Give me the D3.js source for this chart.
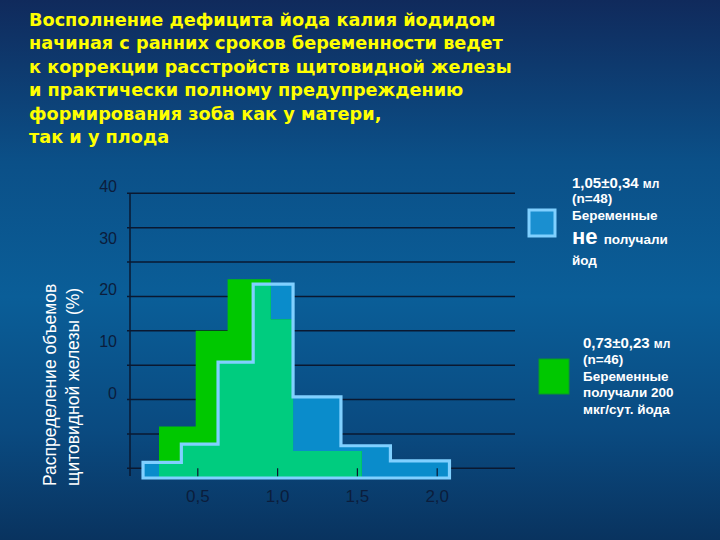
<!DOCTYPE html>
<html><head><meta charset="utf-8">
<script src="https://cdn.jsdelivr.net/npm/d3@7"></script>
<style>html,body{margin:0;padding:0;background:#0a4a80;}svg{display:block;}</style>
</head><body>
<svg id="c" width="720" height="540"></svg>
<script>
// ---- data ----
const titleLines = [
  "Восполнение дефицита йода калия йодидом",
  "начиная с ранних сроков беременности ведет",
  "к коррекции расстройств щитовидной железы",
  "и практически полному предупреждению",
  "формирования зоба как у матери,",
  "так и у плода"
];
const yTitleLines = ["Распределение объемов", "щитовидной железы (%)"];
const yTickLabels = [0, 10, 20, 30, 40];
const gridValues = [0, 5, 10, 15, 20, 25, 30, 35, 40];
const xTickValues = [0.5, 1.0, 1.5, 2.0];
const xTickLabels = ["0,5", "1,0", "1,5", "2,0"];
// no iodine (blue) histogram: bin edges (ml) and values (%)
const blueEdges = [0.16, 0.40, 0.63, 0.85, 1.10, 1.40, 1.71, 2.08];
const blueValues = [3.0, 6.5, 22.3, 37.3, 15.6, 6.2, 3.3];
// iodine 200 mcg (green) histogram
const greenEdges = [0.26, 0.49, 0.69, 0.96, 1.10, 1.53];
const greenValues = [9.9, 28.3, 38.2, 30.5, 5.2];
const legendBlue = ["(n=48)", "Беременные"];
const legendGreen = ["(n=46)", "Беременные", "получали 200", "мкг/сут. йода"];

// ---- drawing ----
const svg = d3.select("#c");
const defs = svg.append("defs");
const grad = defs.append("linearGradient").attr("id","bg").attr("x1",0).attr("y1",0).attr("x2",0).attr("y2",1);
[[0,"#102a5c"],[0.3,"#0b5088"],[0.55,"#0a5e98"],[0.8,"#0a4a80"],[1,"#09335f"]]
  .forEach(([o,c])=>grad.append("stop").attr("offset",o).attr("stop-color",c));
svg.append("rect").attr("width",720).attr("height",540).attr("fill","url(#bg)");

// title
const title = svg.append("text").attr("font-family","DejaVu Sans").attr("font-weight","bold")
  .attr("font-size",17.7).attr("fill","#ffff00");
titleLines.forEach((t,i)=>title.append("tspan").attr("x",29).attr("y",26+i*23.4).text(t));

// scales
const x = d3.scaleLinear().domain([0.5, 2.0]).range([197.3, 436.7]);
const yGrid = d3.scaleLinear().domain([0, 40]).range([468.3, 193.3]);
const yLab = d3.scaleLinear().domain([0, 40]).range([393, 186.7]);
const yH = d3.scaleLinear().domain([0, 40]).range([478, 270]);
const plotL = 130, plotR = 515;

// gridlines
svg.append("g").selectAll("line").data(gridValues).join("line")
  .attr("x1",plotL-3).attr("x2",plotR).attr("y1",d=>yGrid(d)).attr("y2",d=>yGrid(d))
  .attr("stroke","#0a1830").attr("stroke-width",1.5);
svg.append("line").attr("x1",plotL).attr("x2",plotL).attr("y1",yGrid(40)).attr("y2",476)
  .attr("stroke","#0a1830").attr("stroke-width",1.5);

// y tick labels
svg.append("g").selectAll("text").data(yTickLabels).join("text")
  .attr("x",117).attr("y",d=>yLab(d)).attr("dy","0.35em").attr("text-anchor","end")
  .attr("font-family","Liberation Sans, Arial").attr("font-size",16).attr("fill","#0b1d3c")
  .text(d=>d);

// y title
const yt = svg.append("g");
yTitleLines.forEach((t,i)=>{
  yt.append("text").attr("transform",`translate(${56+i*23},486) rotate(-90)`)
    .attr("font-family","Liberation Sans, Arial").attr("font-size",17.5).attr("fill","#ffffff").text(t);
});

// histograms
function stepPts(edges, vals){
  const p = vals.map((v,i)=>({x:edges[i], v}));
  p.push({x:edges[edges.length-1], v:vals[vals.length-1]});
  return p;
}
const area = d3.area().curve(d3.curveStepAfter).x(d=>x(d.x)).y0(yH(0)).y1(d=>yH(d.v));
const blueD = area(stepPts(blueEdges, blueValues));
const greenD = area(stepPts(greenEdges, greenValues));
defs.append("clipPath").attr("id","blueClip").append("path").attr("d",blueD);

svg.append("path").attr("d",blueD).attr("fill","#0a8ccb");
svg.append("path").attr("d",greenD).attr("fill","#00c800");
svg.append("path").attr("d",greenD).attr("fill","#00cc7f").attr("clip-path","url(#blueClip)");
svg.append("path").attr("d",blueD).attr("fill","none").attr("stroke","#80d0ff").attr("stroke-width",3.2);

// x axis ticks and labels
const xAxis = d3.axisBottom(x).tickValues(xTickValues).tickSize(8).tickPadding(14)
  .tickFormat((d,i)=>xTickLabels[i]);
const gx = svg.append("g").attr("transform",`translate(0,${yGrid(0)})`).call(xAxis);
gx.select(".domain").remove();
gx.selectAll(".tick line").attr("stroke","#0a1830").attr("stroke-width",1.2);
gx.selectAll(".tick text").attr("font-family","Liberation Sans, Arial").attr("font-size",17).attr("fill","#0b1d3c");

// legend blue
svg.append("rect").attr("x",529).attr("y",210).attr("width",26).attr("height",26)
  .attr("fill","#1a8fd0").attr("stroke","#80d0ff").attr("stroke-width",3);
const lf = "Liberation Sans, Arial";
const t1 = svg.append("text").attr("x",572).attr("y",188).attr("font-family",lf).attr("font-weight","bold").attr("fill","#fff");
t1.append("tspan").attr("font-size",15).text("1,05±0,34 ");
t1.append("tspan").attr("font-size",12).text("мл");
legendBlue.forEach((t,i)=>svg.append("text").attr("x",572).attr("y",203+i*17).attr("font-family",lf)
  .attr("font-weight","bold").attr("font-size",13.5).attr("fill","#fff").text(t));
const t2 = svg.append("text").attr("x",572).attr("y",244).attr("font-family",lf).attr("font-weight","bold").attr("fill","#fff");
t2.append("tspan").attr("font-size",22).text("не ");
t2.append("tspan").attr("font-size",13.5).text("получали");
svg.append("text").attr("x",572).attr("y",265).attr("font-family",lf).attr("font-weight","bold")
  .attr("font-size",13.5).attr("fill","#fff").text("йод");

// legend green
svg.append("rect").attr("x",539).attr("y",359).attr("width",30).attr("height",35)
  .attr("fill","#00c800").attr("stroke","#0a9a2a").attr("stroke-width",1);
const t3 = svg.append("text").attr("x",583).attr("y",348).attr("font-family",lf).attr("font-weight","bold").attr("fill","#fff");
t3.append("tspan").attr("font-size",15).text("0,73±0,23 ");
t3.append("tspan").attr("font-size",12).text("мл");
legendGreen.forEach((t,i)=>svg.append("text").attr("x",583).attr("y",364+i*16.5).attr("font-family",lf)
  .attr("font-weight","bold").attr("font-size",13.5).attr("fill","#fff").text(t));
</script>
</body></html>
